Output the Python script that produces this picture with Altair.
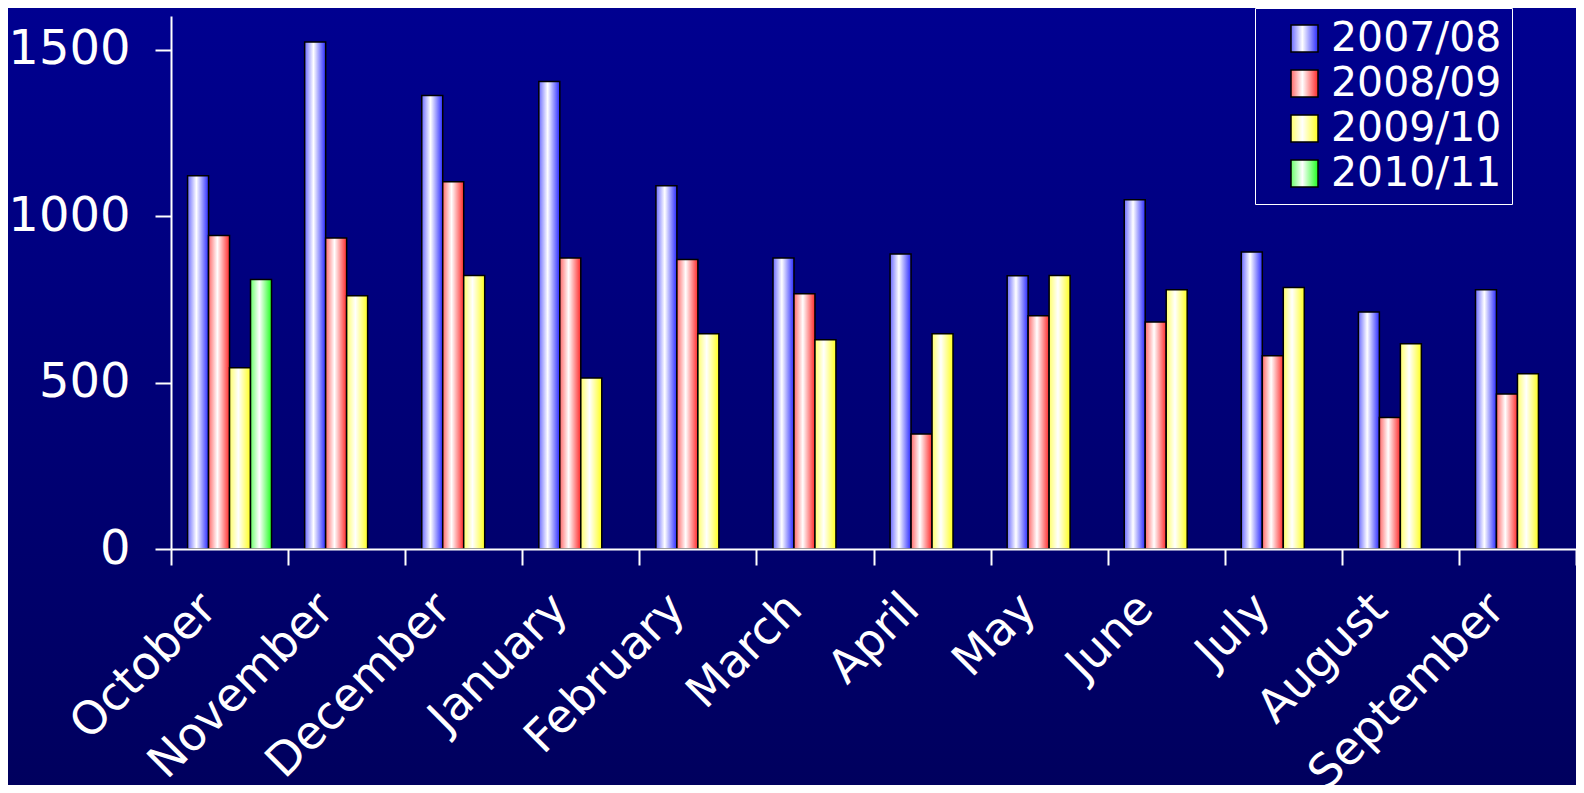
import altair as alt
import pandas as pd

months = ["October", "November", "December", "January", "February", "March",
          "April", "May", "June", "July", "August", "September"]
seasons = ["2007/08", "2008/09", "2009/10", "2010/11"]

v_2007_08 = [1122, 1524, 1363, 1405, 1092, 875, 887, 821, 1050, 893, 712, 779]
v_2008_09 = [942, 935, 1104, 875, 870, 767, 346, 701, 682, 581, 395, 466]
v_2009_10 = [545, 761, 822, 514, 647, 629, 647, 822, 779, 786, 617, 527]
v_2010_11 = [810]

rows = []
for s, vals in zip(seasons, [v_2007_08, v_2008_09, v_2009_10, v_2010_11]):
    for m, v in zip(months, vals):
        rows.append({"month": m, "season": s, "value": v})
df = pd.DataFrame(rows)


def grad(left, right):
    return ("{gradient: 'linear', x1: 0, y1: 0, x2: 1, y2: 0, stops: ["
            "{offset: 0, color: '" + left + "'}, "
            "{offset: 0.42, color: '#ffffff'}, "
            "{offset: 1, color: '" + right + "'}]}")


fill_range = [
    {"expr": grad("#6a6aff", "#2a2aff")},
    {"expr": grad("#ff6a6a", "#ff2a2a")},
    {"expr": grad("#ffff6a", "#ffff20")},
    {"expr": grad("#6aff6a", "#20ff20")},
]

FONT = "DejaVu Sans"
PLOT_W = 1405
PLOT_H = 533

bg = alt.Chart(alt.Data(values=[{"a": 1}])).mark_rect(
    color=alt.LinearGradient(
        gradient="linear", x1=0, y1=0, x2=0, y2=1,
        stops=[alt.GradientStop(offset=0, color="#000090"),
               alt.GradientStop(offset=1, color="#00005e")]),
    clip=False,
).encode(x=alt.value(-163), x2=alt.value(PLOT_W), y=alt.value(-8), y2=alt.value(769))

axis_common = dict(domainColor="white", domainWidth=2, tickColor="white", tickWidth=2,
                   tickSize=16, labelColor="white", labelFont=FONT, zindex=2)

bars = alt.Chart(df).mark_bar(stroke="black", strokeWidth=1.5).encode(
    x=alt.X("month:N", sort=months, title=None,
            scale=alt.Scale(paddingInner=0, paddingOuter=0),
            axis=alt.Axis(tickBand="extent", labelAngle=-45, labelAlign="right",
                          labelBaseline="middle", labelOffset=-21, labelPadding=36,
                          labelFontSize=46, labelLimit=500, labelOverlap=False,
                          **axis_common)),
    xOffset=alt.XOffset("season:N", sort=seasons,
                        scale=alt.Scale(domain=seasons, paddingInner=0, paddingOuter=0.79)),
    y=alt.Y("value:Q", title=None,
            scale=alt.Scale(domain=[0, 1602], nice=False),
            axis=alt.Axis(values=[0, 500, 1000, 1500], format="d", grid=False,
                          labelFontSize=48, labelPadding=25, **axis_common)),
    fill=alt.Fill("season:N", sort=seasons,
                  scale=alt.Scale(domain=seasons, range=fill_range),
                  legend=alt.Legend(
                      title=None, orient="none", legendX=1084, legendY=-8,
                      strokeColor="white", padding=10, symbolOffset=19,
                      symbolType="square", symbolSize=729,
                      symbolStrokeColor="black", symbolStrokeWidth=1.5,
                      labelFont=FONT, labelFontSize=41, labelColor="white",
                      labelOffset=6, labelLimit=400, rowPadding=3,
                      labelExpr="datum.label + '\u2003\u2003'")),
)

chart = alt.layer(bg, bars).properties(
    width=PLOT_W, height=PLOT_H,
    background="#000088",
    autosize=alt.AutoSizeParams(type="none"),
    padding={"left": 163, "top": 8, "right": 0, "bottom": 236},
).configure_view(stroke=None)

chart.save("out.html", embed_options={"renderer": "svg", "actions": False})
